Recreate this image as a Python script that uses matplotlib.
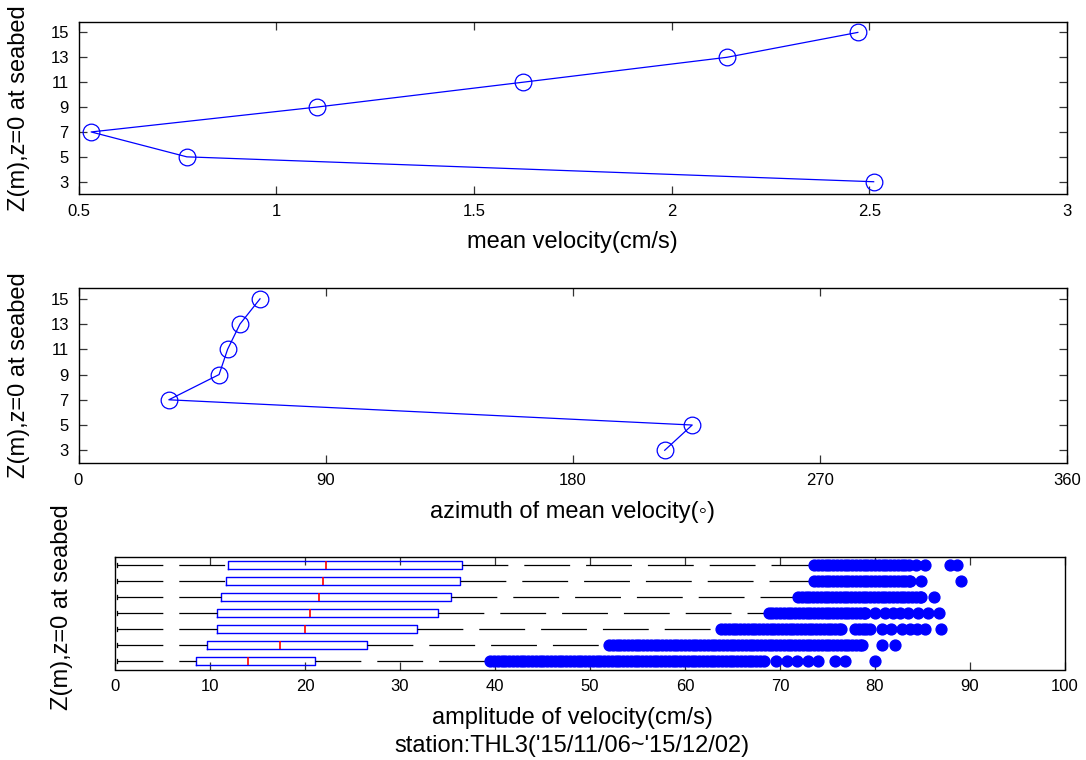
import matplotlib
matplotlib.use("Agg")
import matplotlib.pyplot as plt

plt.rcParams['font.family'] = ['Liberation Sans', 'DejaVu Sans']
plt.rcParams['lines.scale_dashes'] = False

# ---------------- data ----------------
depth = [3, 5, 7, 9, 11, 13, 15]
mean_vel = [2.511, 0.774, 0.532, 1.103, 1.625, 2.140, 2.471]
azimuth = [213.5, 223.5, 32.9, 51.2, 54.3, 58.8, 66.1]

ytick_vals = [3, 5, 7, 9, 11, 13, 15]
vel_ticks = [0.5, 1, 1.5, 2, 2.5, 3]
vel_tick_labels = ['0.5', '1', '1.5', '2', '2.5', '3']
az_ticks = [0, 90, 180, 270, 360]
amp_ticks = [0, 10, 20, 30, 40, 50, 60, 70, 80, 90, 100]

# box statistics of the amplitude, one per depth (z = 3 ... 15)
amp_q1 = [8.56, 9.72, 10.7, 10.7, 11.19, 11.65, 11.93]
amp_med = [14.0, 17.4, 20.03, 20.5, 21.47, 21.93, 22.2]
amp_q3 = [21.0, 26.5, 31.8, 33.96, 35.4, 36.35, 36.56]
amp_whislo = [0.2, 0.2, 0.2, 0.2, 0.2, 0.2, 0.2]
amp_whishi = [39.2, 51.7, 63.4, 68.6, 71.7, 73.4, 73.5]

# outliers
fliers_z3 = [39.5, 39.9, 40.3, 40.7, 41.1, 41.5, 41.9, 42.3, 42.7, 43.1, 43.5,
             43.9, 44.3, 44.7, 45.1, 45.5, 45.9, 46.3, 46.7, 47.1, 47.5, 47.9,
             48.3, 48.7, 49.1, 49.5, 49.9, 50.3, 50.7, 51.1, 51.5, 51.9, 52.3,
             52.7, 53.1, 53.5, 53.9, 54.3, 54.7, 55.1, 55.5, 55.9, 56.3, 56.7,
             57.1, 57.5, 57.9, 58.3, 58.7, 59.1, 59.5, 59.9, 60.3, 60.7, 61.1,
             61.5, 61.9, 62.3, 62.7, 63.1, 63.5, 63.9, 64.3, 64.7, 65.1, 65.5,
             65.9, 66.3, 66.7, 67.1, 67.5, 67.9, 68.3,
             69.6, 70.7, 71.8, 72.9, 74.0, 75.8, 76.8, 80.0]
fliers_z5 = [52.0, 52.4, 52.8, 53.2, 53.6, 54.0, 54.4, 54.8, 55.2, 55.6, 56.0,
             56.4, 56.8, 57.2, 57.6, 58.0, 58.4, 58.8, 59.2, 59.6, 60.0, 60.4,
             60.8, 61.2, 61.6, 62.0, 62.4, 62.8, 63.2, 63.6, 64.0, 64.4, 64.8,
             65.2, 65.6, 66.0, 66.4, 66.8, 67.2, 67.6, 68.0, 68.4, 68.8, 69.2,
             69.6, 70.0, 70.4, 70.8, 71.2, 71.6, 72.0, 72.4, 72.8, 73.2, 73.6,
             74.0, 74.4, 74.8, 75.2, 75.6, 76.0, 76.4, 76.8, 77.2, 77.6, 78.0,
             78.4, 78.6, 80.7, 82.1]
fliers_z7 = [63.8, 64.2, 64.6, 65.0, 65.4, 65.8, 66.2, 66.6, 67.0, 67.4, 67.8,
             68.2, 68.6, 69.0, 69.4, 69.8, 70.2, 70.6, 71.0, 71.4, 71.8, 72.2,
             72.6, 73.0, 73.4, 73.8, 74.2, 74.6, 75.0, 75.4, 75.8, 76.2, 76.4,
             77.9, 78.3, 78.7, 79.1, 79.5,
             80.7, 81.7, 82.8, 83.7, 84.4, 85.3, 86.9]
fliers_z9 = [68.8, 69.2, 69.6, 70.0, 70.4, 70.8, 71.2, 71.6, 72.0, 72.4, 72.8,
             73.2, 73.6, 74.0, 74.4, 74.8, 75.2, 75.6, 76.0, 76.4, 76.8, 77.2,
             77.6, 78.0, 78.4, 78.8, 78.9,
             80.0, 81.0, 81.9, 82.6, 83.5, 84.5, 85.6, 86.7]
fliers_z11 = [71.9, 72.3, 72.7, 73.1, 73.5, 73.9, 74.3, 74.7, 75.1, 75.5, 75.9,
              76.3, 76.7, 77.1, 77.5, 77.9, 78.3, 78.7, 79.1, 79.5, 79.9, 80.3,
              80.7, 81.1, 81.5, 81.9, 82.3, 82.7, 83.1, 83.5, 83.9, 84.3, 84.7,
              84.8, 86.2]
fliers_z13 = [73.6, 74.0, 74.4, 74.8, 75.2, 75.6, 76.0, 76.4, 76.8, 77.2, 77.6,
              78.0, 78.4, 78.8, 79.2, 79.6, 80.0, 80.4, 80.8, 81.2, 81.6, 82.0,
              82.4, 82.8, 83.2, 83.6, 83.7, 84.8, 89.1]
fliers_z15 = [73.6, 74.0, 74.4, 74.8, 75.2, 75.6, 76.0, 76.4, 76.8, 77.2, 77.6,
              78.0, 78.4, 78.8, 79.2, 79.6, 80.0, 80.4, 80.8, 81.2, 81.6, 82.0,
              82.4, 82.8, 83.2, 83.6, 84.3, 85.3, 87.9, 88.6]
amp_fliers = [fliers_z3, fliers_z5, fliers_z7, fliers_z9, fliers_z11,
              fliers_z13, fliers_z15]

# ---------------- layout ----------------
W, H = 1086, 760
fig = plt.figure(figsize=(W / 100, H / 100), dpi=100)


def rect(l, r, t, b):
    return [l / W, 1 - b / H, (r - l) / W, (b - t) / H]


BLUE = '#0000ff'
TICK_FS = 12
LAB_FS = 17


def style(ax):
    ax.tick_params(direction='in', top=True, right=True, length=6, width=0.9,
                   color='#333333', labelsize=TICK_FS, pad=7)
    for s in ax.spines.values():
        s.set_linewidth(1.0)
        s.set_color('black')


ax1 = fig.add_axes(rect(78.5, 1067, 21.7, 194.3))
ax2 = fig.add_axes(rect(78.5, 1067, 288, 463))
ax3 = fig.add_axes(rect(115, 1065, 557, 669.5))

# top: mean velocity
ax1.plot(mean_vel, depth, '-o', color=BLUE, mfc='none', mec=BLUE, ms=12,
         mew=0.9, lw=0.9)
ax1.set_xlim(0.5, 3)
ax1.set_ylim(1.99, 15.86)
ax1.set_xticks(vel_ticks)
ax1.set_xticklabels(vel_tick_labels)
ax1.set_yticks(ytick_vals)
style(ax1)

# middle: azimuth
ax2.plot(azimuth, depth, '-o', color=BLUE, mfc='none', mec=BLUE, ms=12,
         mew=0.9, lw=0.9)
ax2.set_xlim(0, 360)
ax2.set_ylim(1.99, 15.86)
ax2.set_xticks(az_ticks)
ax2.set_yticks(ytick_vals)
style(ax2)

# bottom: box plot of amplitude
stats = []
for i in range(len(depth)):
    stats.append(dict(med=amp_med[i], q1=amp_q1[i], q3=amp_q3[i],
                      whislo=amp_whislo[i], whishi=amp_whishi[i],
                      fliers=amp_fliers[i], label=str(depth[i])))
bp = ax3.bxp(stats, positions=list(range(1, len(depth) + 1)),
             orientation='horizontal', widths=0.5, capwidths=0.25,
             boxprops=dict(color=BLUE, lw=1.0),
             medianprops=dict(color='red', lw=1.2),
             whiskerprops=dict(color='black', lw=0.9,
                               linestyle=(0, (33, 11.5))),
             capprops=dict(color='black', lw=0.9),
             flierprops=dict(marker='o', mfc=BLUE, mec=BLUE, ms=7.8,
                             linestyle='none'))
# MATLAB draws the lower whisker from the end towards the box
for w in bp['whiskers'][0::2]:
    w.set_xdata(w.get_xdata()[::-1])
ax3.set_xlim(0, 100)
ax3.set_ylim(0.5, 7.5)
ax3.set_xticks(amp_ticks)
ax3.set_yticks([])
style(ax3)
ax3.tick_params(axis='y', left=False, right=False)

# labels
fig.text(572 / W, 1 - 248 / H, 'mean velocity(cm/s)', ha='center',
         va='baseline', fontsize=LAB_FS)
fig.text(572 / W, 1 - 518 / H, 'azimuth of mean velocity(\u25e6)',
         ha='center', va='baseline', fontsize=LAB_FS)
fig.text(572 / W, 1 - 724 / H, 'amplitude of velocity(cm/s)', ha='center',
         va='baseline', fontsize=LAB_FS)
fig.text(572 / W, 1 - 752 / H, "station:THL3('15/11/06~'15/12/02)",
         ha='center', va='baseline', fontsize=LAB_FS)

ylab = 'Z(m),z=0 at seabed'
fig.text(19 / W, 1 - 108 / H, ylab, rotation=90, ha='center', va='center',
         fontsize=LAB_FS)
fig.text(19 / W, 1 - 375 / H, ylab, rotation=90, ha='center', va='center',
         fontsize=LAB_FS)
fig.text(62 / W, 1 - 607 / H, ylab, rotation=90, ha='center', va='center',
         fontsize=LAB_FS)

fig.savefig('out.png', dpi=100)
